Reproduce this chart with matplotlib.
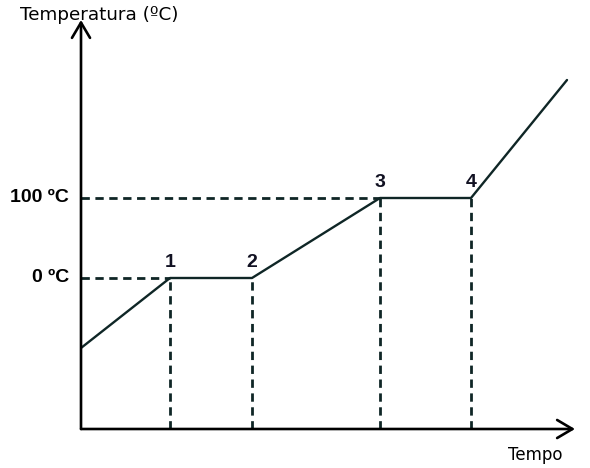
import matplotlib
matplotlib.use("Agg")
import matplotlib.pyplot as plt

# Dados (tempo em unidades arbitrárias, temperatura em ºC)
tempo = [0, 8.9, 17.1, 29.9, 39.0, 48.6]
temperatura = [-87.5, 0, 0, 100, 100, 247.5]

# pontos numerados (índices em tempo/temperatura)
pontos = [1, 2, 3, 4]
rotulos = ["1", "2", "3", "4"]

niveis = [0, 100]
niveis_txt = ["0 ºC", "100 ºC"]

t_max = 49.4
temp_min, temp_max = -188.75, 322.5

fig = plt.figure(figsize=(5.9, 4.68), dpi=100)
ax = fig.add_axes([81 / 590, 39 / 468, 494 / 590, 409 / 468])
ax.set_xlim(0, t_max)
ax.set_ylim(temp_min, temp_max)
ax.axis("off")

cor = "#0f2626"
tracejado = (0, (3, 2))

# linhas tracejadas horizontais
ax.plot([0, tempo[1]], [0, 0], color=cor, lw=2, ls=tracejado)
ax.plot([0, tempo[3]], [100, 100], color=cor, lw=2, ls=tracejado)

# linhas tracejadas verticais
for i in pontos:
    ax.plot([tempo[i], tempo[i]], [temp_min, temperatura[i]], color=cor,
            lw=2, ls=tracejado)

# curva de aquecimento
ax.plot(tempo, temperatura, color=cor, lw=1.7, solid_capstyle="round")

# eixos com setas
seta = dict(arrowstyle="->,head_length=1.1,head_width=0.65",
            color="black", lw=1.9, shrinkA=0, shrinkB=0)
ax.annotate("", xy=(0, temp_max), xytext=(0, temp_min),
            arrowprops=seta, annotation_clip=False)
ax.annotate("", xy=(t_max, temp_min), xytext=(0, temp_min),
            arrowprops=seta, annotation_clip=False)

# rótulos dos pontos
for i, r in zip(pontos, rotulos):
    ax.text(tempo[i], temperatura[i] + 9, r, ha="center", va="bottom",
            fontsize=14, fontweight="bold", family="Liberation Sans", color="#111122")

# rótulos dos níveis
for v, s in zip(niveis, niveis_txt):
    ax.text(-1.2, v, s, ha="right", va="center", fontsize=14,
            fontweight="bold", family="Liberation Sans", color="black")

fig.text(20 / 590, 1 - 15 / 468, "Temperatura (ºC)", ha="left", va="center",
         fontsize=13.2, family="DejaVu Sans")
fig.text(535 / 590, 1 - 455 / 468, "Tempo", ha="center", va="center",
         fontsize=12, family="DejaVu Sans")

fig.savefig("out.png", dpi=100)
